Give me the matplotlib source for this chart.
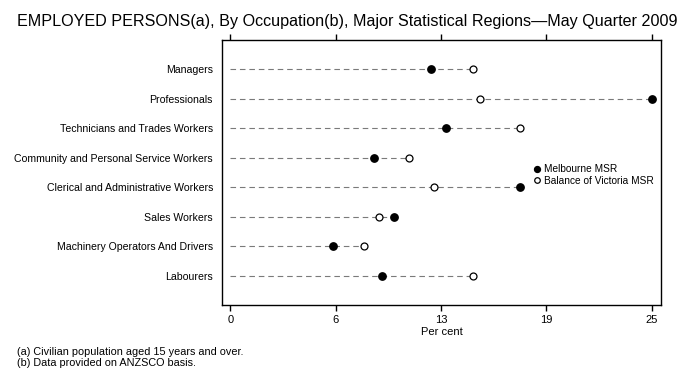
import matplotlib
matplotlib.use('Agg')
import matplotlib.pyplot as plt

# data
occupations = ['Managers', 'Professionals', 'Technicians and Trades Workers',
               'Community and Personal Service Workers',
               'Clerical and Administrative Workers', 'Sales Workers',
               'Machinery Operators And Drivers', 'Labourers']
melbourne = [11.9, 25.0, 12.8, 8.5, 17.2, 9.7, 6.1, 9.0]
balance_vic = [14.4, 14.8, 17.2, 10.6, 12.1, 8.8, 7.9, 14.4]
xticks = [0, 6.25, 12.5, 18.75, 25]
xtick_labels = ['0', '6', '13', '19', '25']

plt.rcParams['font.family'] = ['Liberation Sans', 'DejaVu Sans']

fig = plt.figure(figsize=(6.97, 3.83), dpi=100)
ax = fig.add_axes([0.3185, 0.2037, 0.6299, 0.6919])

ypos = list(range(len(occupations)))

# dashed guide lines from zero to the larger value
for y, m, b in zip(ypos, melbourne, balance_vic):
    ax.plot([0, max(m, b)], [y, y], color='#7a7a7a', lw=0.8,
            dashes=(5, 3.5), zorder=1)

ax.plot(melbourne, ypos, 'o', ms=5.3, mfc='black', mec='black',
        ls='none', zorder=3, label='Melbourne MSR')
ax.plot(balance_vic, ypos, 'o', ms=5.0, mfc='white', mec='black', mew=0.9,
        ls='none', zorder=3, label='Balance of Victoria MSR')

ax.set_ylim(len(occupations), -1)
ax.set_xlim(-0.5, 25.55)
ax.set_yticks(ypos)
ax.set_yticklabels(occupations, fontsize=7.6)
ax.tick_params(axis='y', length=0, pad=6.5)
ax.set_xticks(xticks)
ax.set_xticklabels(xtick_labels, fontsize=8)
ax.tick_params(axis='x', top=True, direction='out', length=4.5, width=1, pad=2.5)
for s in ax.spines.values():
    s.set_linewidth(1)

ax.set_xlabel('Per cent', fontsize=8, labelpad=2)

leg = ax.legend(loc='upper left', bbox_to_anchor=(0.697, 0.547), frameon=False,
                fontsize=7.3, handletextpad=0.2, labelspacing=0.15,
                borderaxespad=0, handlelength=1.0, markerscale=0.8)

fig.text(0.024, 0.943, 'EMPLOYED PERSONS(a), By Occupation(b), Major Statistical Regions\u2014May Quarter 2009',
         fontsize=11.6, va='center', ha='left')
fig.text(0.024, 0.081, '(a) Civilian population aged 15 years and over.',
         fontsize=7.8, va='center')
fig.text(0.024, 0.051, '(b) Data provided on ANZSCO basis.',
         fontsize=7.8, va='center')

fig.savefig('out.png', dpi=100)
